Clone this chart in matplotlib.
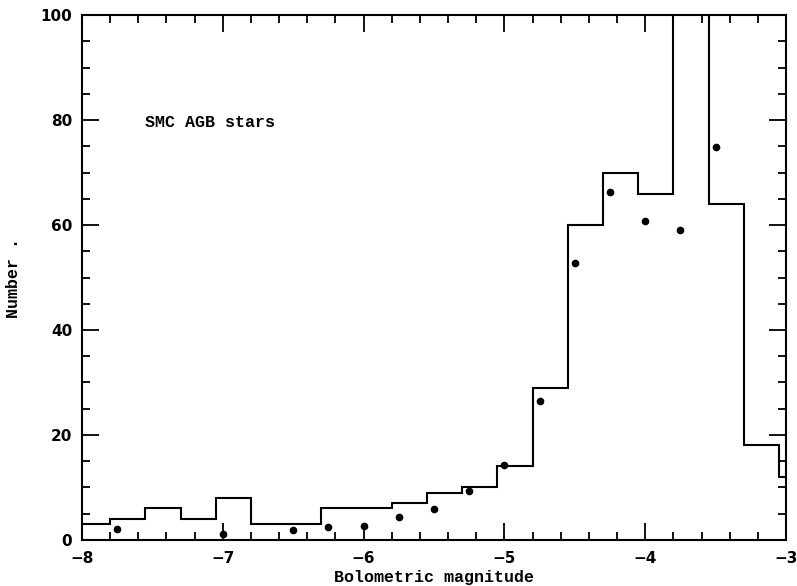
"""
SMC AGB stars: bolometric luminosity function (histogram + model points).
"""

import numpy as np
import matplotlib
matplotlib.use('Agg')
import matplotlib.pyplot as plt
from matplotlib.ticker import MultipleLocator

# Histogram bin edges (mag) and star counts per bin
bin_edges = [-8.0, -7.8, -7.55, -7.3, -7.05, -6.8, -6.55, -6.3, -6.05, -5.8,
             -5.55, -5.3, -5.05, -4.8, -4.55, -4.3, -4.05, -3.8, -3.55, -3.3,
             -3.05, -3.0]
counts = [3, 4, 6, 4, 8, 3, 3, 6, 6, 7,
          9, 10, 14, 29, 60, 70, 66, 110, 64, 18,
          12]

# Model points
model_mag = [-7.75, -7.0, -6.5, -6.25, -6.0, -5.75, -5.5, -5.25, -5.0,
             -4.75, -4.5, -4.25, -4.0, -3.75, -3.5]
model_num = [2.0, 1.2, 1.9, 2.4, 2.7, 4.4, 5.9, 9.3, 14.3,
             26.5, 52.8, 66.2, 60.7, 59.1, 74.9]

mono = 'Liberation Mono'

fig = plt.figure(figsize=(7.97, 5.86), dpi=100)
ax = fig.add_axes([0.1029, 0.0785, 0.8833, 0.8959])

ax.stairs(counts, bin_edges, baseline=None, color='black', linewidth=1.5)
ax.plot(model_mag, model_num, 'o', color='black', markersize=4.5)

ax.set_xlim(-8, -3)
ax.set_ylim(0, 100)

ax.xaxis.set_major_locator(MultipleLocator(1))
ax.xaxis.set_minor_locator(MultipleLocator(0.2))
ax.yaxis.set_major_locator(MultipleLocator(20))
ax.yaxis.set_minor_locator(MultipleLocator(5))
ax.tick_params(which='both', direction='in', top=True, right=True,
               width=1.3, labelsize=11)
ax.tick_params(axis='x', pad=8)
ax.tick_params(axis='y', pad=7)
ax.tick_params(which='major', length=12)
ax.tick_params(which='minor', length=6)
for lab in ax.get_xticklabels() + ax.get_yticklabels():
    lab.set_fontweight('bold')
for sp in ax.spines.values():
    sp.set_linewidth(1.5)

ax.set_xlabel('Bolometric magnitude', fontfamily=mono, fontsize=12,
              fontweight='bold', labelpad=2.5)
ax.set_ylabel('Number .', fontfamily=mono, fontsize=12,
              fontweight='bold', labelpad=14)

ax.text(-7.55, 79.5, 'SMC AGB stars', fontfamily=mono, fontsize=12,
        fontweight='bold', va='center', ha='left')

fig.savefig('out.png', dpi=100)
